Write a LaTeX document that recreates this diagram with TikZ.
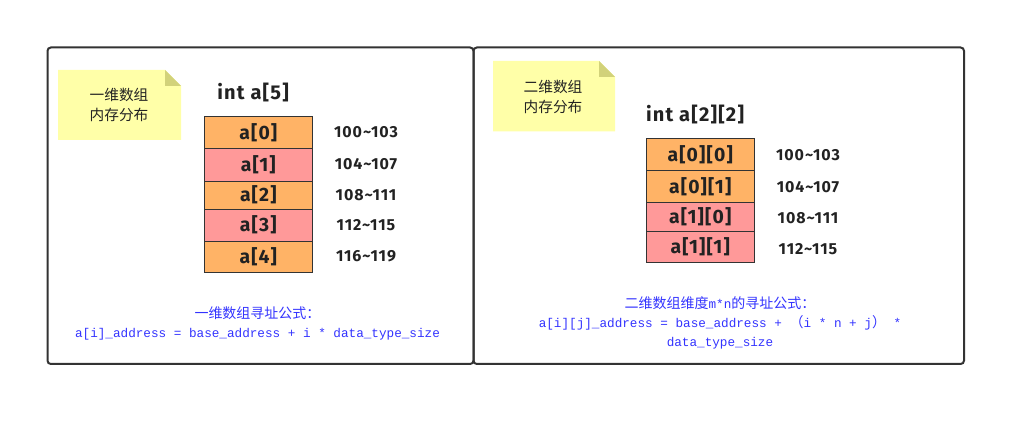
\documentclass[tikz,border=0pt]{standalone}
\usepackage{fontspec}
\setmainfont{Fira Sans}
\newfontfamily\cjk{Noto Sans CJK SC}
\newfontfamily\codefont{Liberation Mono}
\newfontfamily\boxfont[LetterSpace=6]{Fira Sans}
\usetikzlibrary{positioning}

\definecolor{frameline}{HTML}{333333}
\definecolor{noteyellow}{HTML}{FFFFA8}
\definecolor{notefold}{HTML}{D2D27A}
\definecolor{cellorange}{HTML}{FFB366}
\definecolor{cellpink}{HTML}{FF9999}
\definecolor{formulablue}{HTML}{3333FF}
\definecolor{ink}{HTML}{222222}

\newcommand\zh[1]{{\cjk\fontsize{10.5}{14.25}\selectfont #1}}

\tikzset{
  panel/.style     = {draw=frameline, line width=1.5pt, rounded corners=2.5pt},
  notetext/.style  = {font=\cjk\fontsize{11}{14.5}\selectfont, align=center, text=ink},
  arraytitle/.style= {font=\boxfont\bfseries\fontsize{15}{18}\selectfont, text=ink},
  cellbox/.style   = {draw=frameline, line width=0.75pt, anchor=north, inner sep=0pt,
                      minimum width=108*0.75pt, text=ink,
                      font=\boxfont\bfseries\fontsize{14.5}{16}\selectfont},
  addrlabel/.style = {font=\boxfont\bfseries\fontsize{12}{14}\selectfont, text=ink},
  formula/.style   = {align=center, text=formulablue,
                      font=\codefont\fontsize{9.5}{14.25}\selectfont},
}

\begin{document}
\begin{tikzpicture}[x=0.75pt, y=-0.75pt]

%% ── Canvas (1 unit = 1 px of the 1026 x 427 sheet) ──────────────────────────
\useasboundingbox (0,0) rectangle (1026,427);

%% ── Panel frames ─────────────────────────────────────────────────────────────
\draw[panel] (47.5,47.5) rectangle (473.5,364);
\draw[panel] (473.5,47.5) rectangle (964,364);

%% ── Sticky notes ─────────────────────────────────────────────────────────────
% left note
\fill[noteyellow] (58,70) -- (165,70) -- (181,86) -- (181,140) -- (58,140) -- cycle;
\fill[notefold]   (165,70) -- (181,86) -- (165,86) -- cycle;
\node[notetext] (noteA) at (119,105) {一维数组\\内存分布};

% right note
\fill[noteyellow] (493,61) -- (599,61) -- (615,77) -- (615,131.5) -- (493,131.5) -- cycle;
\fill[notefold]   (599,61) -- (615,77) -- (599,77) -- cycle;
\node[notetext] (noteB) at (553,97) {二维数组\\内存分布};

%% ── One-dimensional array ────────────────────────────────────────────────────
\node[arraytitle] (titleA) at (253,93) {int a[5]};

\foreach \n/\top/\h/\col in {0/116.3/32/cellorange, 1/148.3/32.4/cellpink,
                            2/180.7/28/cellorange, 3/208.7/32/cellpink,
                            4/240.7/31.6/cellorange}{
  \node[cellbox, fill=\col, minimum height=\h*0.75pt] (cellA\n) at (258.3,\top) {a[\n]};
}

\foreach \n/\y/\lo/\hi in {0/132/100/103, 1/164/104/107, 2/195/108/111,
                           3/225/112/115, 4/256/116/119}{
  \node[addrlabel] (addrA\n) at (366,\y) {\lo\textasciitilde\hi};
}

\node[formula] (formulaA) at (257.5,323.5)
  {\zh{一维数组寻址公式：}\\
   a[i]\_address = base\_address + i * data\_type\_size};

%% ── Two-dimensional array ────────────────────────────────────────────────────
\node[arraytitle] (titleB) at (695,115) {int a[2][2]};

\foreach \i/\j/\top/\h/\col in {0/0/138.3/32/cellorange, 0/1/170.3/32/cellorange,
                               1/0/202.3/28.4/cellpink, 1/1/230.7/31.6/cellpink}{
  \node[cellbox, fill=\col, minimum height=\h*0.75pt] (cellB\i\j) at (700.2,\top) {a[\i][\j]};
}

\foreach \n/\y/\lo/\hi in {0/155/100/103, 1/186.7/104/107,
                           2/217.7/108/111, 3/249/112/115}{
  \node[addrlabel] (addrB\n) at (808,\y) {\lo\textasciitilde\hi};
}

\node[formula] (formulaB) at (720,323)
  {\zh{二维数组维度}m*n\zh{的寻址公式：}\\
   a[i][j]\_address = base\_address + \zh{（}i * n + j\zh{）} *\\
   data\_type\_size};

\end{tikzpicture}
\end{document}
